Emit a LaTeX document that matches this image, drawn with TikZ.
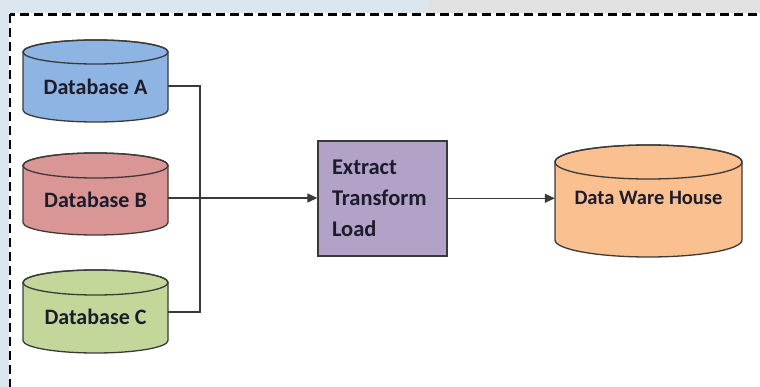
\documentclass[tikz,border=0pt]{standalone}
\usepackage{fontspec}
\setmainfont{Carlito}
\usetikzlibrary{arrows.meta}

\definecolor{stripblue}{HTML}{DBE6EF}
\definecolor{stripgrey}{HTML}{E1E1E1}
\definecolor{fillA}{HTML}{8DB4E2}
\definecolor{fillB}{HTML}{DA9694}
\definecolor{fillC}{HTML}{C4D79B}
\definecolor{fillETL}{HTML}{B2A2C7}
\definecolor{fillDW}{HTML}{FAC090}
\definecolor{edge}{HTML}{3A3A3A}
\definecolor{ink}{HTML}{1C1C2C}

% cylinder: centre x, top-cap centre y, bottom-cap centre y, half width, cap radius, fill
\newcommand\dbcyl[6]{%
  \filldraw[cylline, fill=#6]
    (#1-#4,#2) -- (#1-#4,#3)
    arc[start angle=180, end angle=360, x radius=#4pt, y radius=#5pt]
    -- (#1+#4,#2)
    arc[start angle=0, end angle=180, x radius=#4pt, y radius=#5pt] -- cycle;
  \draw[cylline] (#1,#2) ellipse[x radius=#4pt, y radius=#5pt];
}

\tikzset{
  cylline/.style={draw=edge, line width=1.3pt},
  label text/.style={font=\bfseries\fontsize{22}{31}\selectfont, text=ink},
  dbtext/.style={label text, inner xsep=0pt, inner ysep=0pt,
                 text height=14.2pt, text depth=0pt},
  etlbox/.style={label text, font=\bfseries\fontsize{22.5}{31}\selectfont,
                 draw=edge, line width=1.3pt, fill=fillETL,
                 minimum width=129pt, minimum height=115pt,
                 text width=101pt, inner xsep=14pt, align=left},
  conn/.style={draw=edge, line width=1.2pt},
  flow/.style={conn, -{Triangle[length=10pt, width=9pt]}},
  frame/.style={line width=2.2pt, dash pattern=on 9pt off 5pt, draw=black}
}

\begin{document}
\begin{tikzpicture}[x=1pt, y=1pt]
  \useasboundingbox (0,0) rectangle (760,-387);
  \clip (0,0) rectangle (760,-387);

  % page background and outer strips
  \fill[white] (0,0) rectangle (760,-387);
  \fill[stripblue] (0,0) rectangle (430,-13);
  \fill[stripgrey] (430,0) rectangle (760,-13);
  \fill[stripblue] (0,0) rectangle (8.8,-387);

  % dashed frame
  \draw[frame] (9.8,-14.5) rectangle (790,-420);

  % source databases
  \dbcyl{95.5}{-52}{-110}{72.5}{12}{fillA}
  \dbcyl{95.5}{-165.5}{-222.5}{72.5}{12.5}{fillB}
  \dbcyl{95.5}{-282.5}{-340.5}{72.5}{12.5}{fillC}
  % warehouse
  \dbcyl{648.5}{-162}{-240}{93.5}{17}{fillDW}

  \node[dbtext, minimum width=145pt] (dba) at (95.5,-87.5) {Database A};
  \node[dbtext, minimum width=145pt] (dbb) at (95.5,-200) {Database B};
  \node[dbtext, minimum width=145pt] (dbc) at (95.5,-317.5) {Database C};
  \node[dbtext, font=\bfseries\fontsize{20.5}{25}\selectfont, text height=13.2pt,
        minimum width=187pt] (dw) at (648.5,-198.3) {Data Ware House};

  % ETL process
  \node[etlbox] (etl) at (382.5,-198.5) {Extract\\Transform\\Load};

  % connectors
  \coordinate (jtop) at (200,-86);
  \coordinate (jbot) at (200,-312);
  \draw[conn] ([yshift=1.5pt]dba.east) -- (jtop) -- (jbot) -- ([yshift=5.5pt]dbc.east);
  \draw[flow] ([yshift=2pt]dbb.east) -- ([yshift=2pt]dbb.east -| etl.west);
  \draw[flow] (etl.east |- dw.west) -- (dw.west);
\end{tikzpicture}
\end{document}
